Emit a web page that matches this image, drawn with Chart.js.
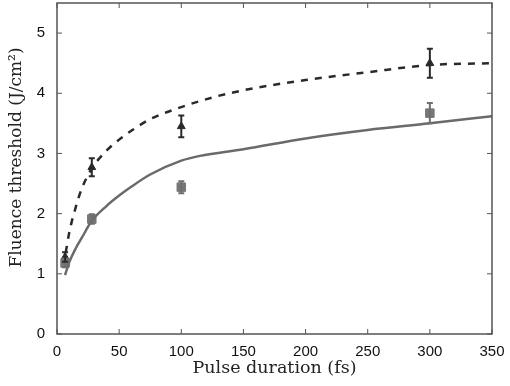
<!DOCTYPE html>
<html>
<head>
<meta charset="utf-8">
<script src="https://cdn.jsdelivr.net/npm/chart.js@4/dist/chart.umd.min.js"></script>
<style>
  html, body { margin: 0; padding: 0; background: #fff; overflow: hidden; }
  #wrap { width: 510px; height: 386px; overflow: hidden; }
  #grafico { display: block; margin-top: -4px; }
</style>
</head>
<body>
<div id="wrap"><canvas id="grafico" width="510" height="390"></canvas></div>
<script>
// pontos medidos (x = duração em fs)
const pontosX = [6.5, 28, 100, 300];
const trianguloY = [1.28, 2.77, 3.45, 4.5];
const trianguloErro = [0.08, 0.15, 0.18, 0.24];
const quadradoY = [1.18, 1.91, 2.44, 3.67];
const quadradoErro = [0.07, 0.08, 0.1, 0.17];

// curva continua
const solidaX = [6.5, 10, 15, 20, 28, 40, 50, 60, 75, 100, 115, 150, 200, 250, 300, 350];
const solidaY = [0.98, 1.2, 1.42, 1.6, 1.88, 2.13, 2.3, 2.45, 2.65, 2.88, 2.96, 3.07, 3.25, 3.39, 3.5, 3.62];

// curva tracejada
const tracejadaX = [7, 10, 15, 20, 28, 40, 50, 60, 75, 100, 125, 150, 200, 250, 300, 350];
const tracejadaY = [1.35, 1.7, 2.1, 2.42, 2.75, 3.05, 3.23, 3.38, 3.57, 3.77, 3.93, 4.05, 4.22, 4.35, 4.47, 4.5];

const ticksX = [0, 50, 100, 150, 200, 250, 300, 350];
const ticksY = [0, 1, 2, 3, 4, 5];
const tituloY = "Fluence threshold (J/cm²)";

function juntar(xs, ys) {
  let out = [];
  for (let i = 0; i < xs.length; i++) out.push({ x: xs[i], y: ys[i] });
  return out;
}

// barras de erro
const barrasErro = {
  id: "barrasErro",
  afterDatasetsDraw(chart) {
    const ctx = chart.ctx;
    const sx = chart.scales.x;
    const sy = chart.scales.y;
    const grupos = [
      { ys: quadradoY, err: quadradoErro, cor: "#6f6f6f" },
      { ys: trianguloY, err: trianguloErro, cor: "#2a2a2a" },
    ];
    ctx.save();
    ctx.lineWidth = 2;
    grupos.forEach(function (g) {
      ctx.strokeStyle = g.cor;
      for (let i = 0; i < pontosX.length; i++) {
        const px = sx.getPixelForValue(pontosX[i]);
        const y1 = sy.getPixelForValue(g.ys[i] - g.err[i]);
        const y2 = sy.getPixelForValue(g.ys[i] + g.err[i]);
        ctx.beginPath();
        ctx.moveTo(px, y1);
        ctx.lineTo(px, y2);
        ctx.moveTo(px - 3, y1);
        ctx.lineTo(px + 3, y1);
        ctx.moveTo(px - 3, y2);
        ctx.lineTo(px + 3, y2);
        ctx.stroke();
      }
    });
    ctx.restore();
  },
};

// moldura, ticks para dentro (estilo matlab) e titulo do eixo y
const moldura = {
  id: "moldura",
  afterDraw(chart) {
    const ctx = chart.ctx;
    const a = chart.chartArea;
    const sx = chart.scales.x;
    const sy = chart.scales.y;
    ctx.save();
    ctx.strokeStyle = "#555";
    ctx.lineWidth = 1.5;
    ctx.strokeRect(a.left, a.top, a.right - a.left, a.bottom - a.top);
    ctx.lineWidth = 1;
    ctx.beginPath();
    ticksX.forEach(function (v) {
      const p = sx.getPixelForValue(v);
      ctx.moveTo(p, a.bottom);
      ctx.lineTo(p, a.bottom - 5);
      ctx.moveTo(p, a.top);
      ctx.lineTo(p, a.top + 5);
    });
    ticksY.forEach(function (v) {
      const p = sy.getPixelForValue(v);
      ctx.moveTo(a.left, p);
      ctx.lineTo(a.left + 5, p);
      ctx.moveTo(a.right, p);
      ctx.lineTo(a.right - 5, p);
    });
    ctx.stroke();

    // centro do titulo ligeiramente acima do meio do eixo
    ctx.translate(17, (a.top + a.bottom) / 2 - 11);
    ctx.rotate(-Math.PI / 2);
    ctx.fillStyle = "#222";
    ctx.font = "17px 'DejaVu Serif'";
    ctx.textAlign = "center";
    ctx.textBaseline = "middle";
    ctx.fillText(tituloY, 0, 0);
    ctx.restore();
  },
};

new Chart(document.getElementById("grafico"), {
  type: "scatter",
  data: {
    datasets: [
      {
        type: "line",
        data: juntar(solidaX, solidaY),
        borderColor: "#6a6a6a",
        borderWidth: 2.5,
        pointRadius: 0,
        cubicInterpolationMode: "monotone",
        fill: false,
      },
      {
        type: "line",
        data: juntar(tracejadaX, tracejadaY),
        borderColor: "#2a2a2a",
        borderWidth: 2.5,
        borderDash: [7, 7],
        pointRadius: 0,
        cubicInterpolationMode: "monotone",
        fill: false,
      },
      {
        data: juntar(pontosX, quadradoY),
        pointStyle: "rect",
        pointRadius: 6,
        backgroundColor: "#777",
        borderColor: "#777",
        borderWidth: 1,
      },
      {
        data: juntar(pontosX, trianguloY),
        pointStyle: "triangle",
        pointRadius: 4.5,
        backgroundColor: "#2a2a2a",
        borderColor: "#2a2a2a",
        borderWidth: 1,
      },
    ],
  },
  options: {
    responsive: false,
    animation: false,
    layout: { padding: { left: 0, top: 0, right: 18, bottom: 0 } },
    plugins: { legend: { display: false }, tooltip: { enabled: false } },
    scales: {
      x: {
        type: "linear",
        min: 0,
        max: 350,
        afterBuildTicks(scale) {
          scale.ticks = ticksX.map(function (v) { return { value: v }; });
        },
        afterFit(scale) {
          scale.height = 52;
          scale.paddingLeft = 0;
          scale.paddingRight = 0;
        },
        grid: { display: false },
        border: { display: false },
        ticks: {
          color: "#111",
          font: { family: "Liberation Sans", size: 15 },
          padding: 1,
          maxRotation: 0,
        },
        title: {
          display: true,
          text: "Pulse duration (fs)",
          color: "#222",
          font: { family: "DejaVu Serif", size: 17.5 },
          padding: { top: 0, bottom: 7 },
        },
      },
      y: {
        min: 0,
        max: 5.5,
        afterBuildTicks(scale) {
          scale.ticks = ticksY.map(function (v) { return { value: v }; });
        },
        afterFit(scale) {
          scale.width = 57;
          scale.paddingTop = 0;
          scale.paddingBottom = 0;
        },
        grid: { display: false },
        border: { display: false },
        ticks: {
          color: "#111",
          font: { family: "Liberation Sans", size: 15 },
          padding: 4,
        },
      },
    },
  },
  plugins: [barrasErro, moldura],
});
</script>
</body>
</html>
